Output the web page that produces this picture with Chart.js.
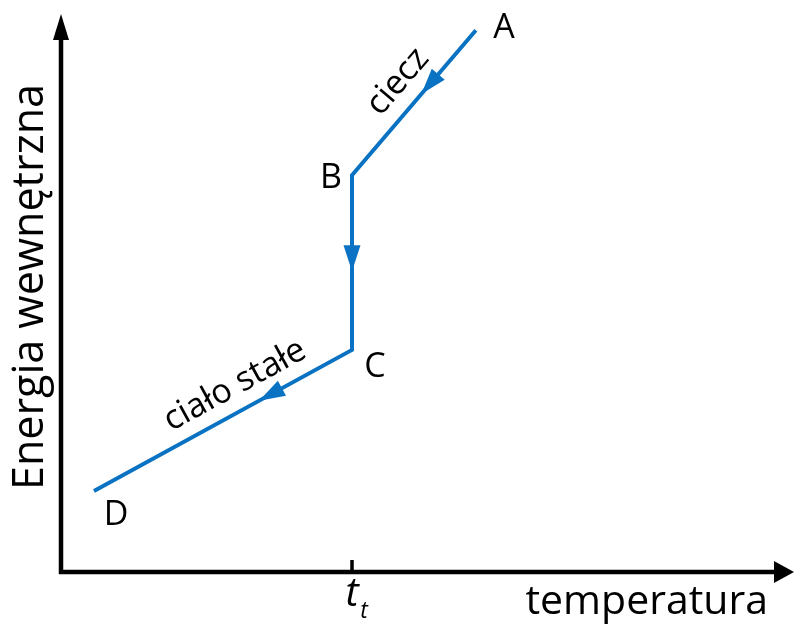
<!DOCTYPE html>
<html><head><meta charset="utf-8">
<script src="https://cdn.jsdelivr.net/npm/chart.js@4"></script>
<style>html,body{margin:0;padding:0;background:#fff;}#wrap{width:794px;height:624px;}</style>
</head><body><div id="wrap"><canvas id="c"></canvas></div>
<script>
// Data
const pointNames = ['A', 'B', 'C', 'D'];
const temperature = [56.6, 39.7, 39.7, 4.5];
const energy = [97.1, 71.1, 39.8, 14.5];
const meltingTemp = 39.7;
const xTickLabels = ['t', 't'];
const segmentLabels = ['ciecz', '', 'ciało stałe'];
const axisTitles = ['temperatura', 'Energia wewnętrzna'];

const FONT = '"Open Sans", "Noto Sans", sans-serif';
const BLUE = '#0A72C2';

const decor = {
  id: 'decor',
  afterDatasetsDraw(chart) {
    const ctx = chart.ctx;
    const xs = chart.scales.x, ys = chart.scales.y;
    const x0 = xs.getPixelForValue(0), y0 = ys.getPixelForValue(0);
    const pts = chart.getDatasetMeta(0).data.map(p => ({x: p.x, y: p.y}));
    ctx.save();
    // axes
    ctx.strokeStyle = '#000'; ctx.fillStyle = '#000'; ctx.lineWidth = 4.5;
    ctx.beginPath(); ctx.moveTo(x0, y0 + 2); ctx.lineTo(x0, 38); ctx.stroke();
    ctx.beginPath(); ctx.moveTo(x0 - 2, y0); ctx.lineTo(776, y0); ctx.stroke();
    ctx.beginPath(); ctx.moveTo(x0, 14); ctx.lineTo(x0 + 8, 40); ctx.lineTo(x0 - 8, 40); ctx.closePath(); ctx.fill();
    ctx.beginPath(); ctx.moveTo(794, y0); ctx.lineTo(774, y0 - 11); ctx.lineTo(774, y0 + 11); ctx.closePath(); ctx.fill();
    // tick
    const tx = xs.getPixelForValue(meltingTemp);
    ctx.lineWidth = 3.5;
    ctx.beginPath(); ctx.moveTo(tx, y0 - 12); ctx.lineTo(tx, y0); ctx.stroke();
    ctx.textAlign = 'center'; ctx.textBaseline = 'alphabetic';
    ctx.font = 'italic 40px ' + FONT;
    ctx.fillText(xTickLabels[0], tx, y0 + 34);
    ctx.font = 'italic 23px ' + FONT;
    ctx.fillText(xTickLabels[1], tx + 12, y0 + 46);
    // axis titles
    ctx.font = '41px ' + FONT;
    ctx.textAlign = 'right';
    ctx.fillText(axisTitles[0], 768, 614);
    ctx.save();
    ctx.font = '43px ' + FONT;
    ctx.translate(43, 287); ctx.rotate(-Math.PI / 2);
    ctx.textAlign = 'center';
    ctx.fillText(axisTitles[1], 0, 0);
    ctx.restore();
    // segment arrows
    const fr = [0.44, 0.55, 0.36];
    ctx.fillStyle = BLUE;
    for (let i = 0; i < 3; i++) {
      const a = pts[i], b = pts[i + 1];
      const dx = b.x - a.x, dy = b.y - a.y, L = Math.hypot(dx, dy);
      const ux = dx / L, uy = dy / L;
      const tipx = a.x + dx * fr[i], tipy = a.y + dy * fr[i];
      const bx = tipx - ux * 26, by = tipy - uy * 26;
      ctx.beginPath();
      ctx.moveTo(tipx, tipy);
      ctx.lineTo(bx - uy * 8.5, by + ux * 8.5);
      ctx.lineTo(bx + uy * 8.5, by - ux * 8.5);
      ctx.closePath(); ctx.fill();
    }
    // point labels
    ctx.fillStyle = '#000';
    ctx.font = '34px ' + FONT;
    ctx.textAlign = 'center'; ctx.textBaseline = 'alphabetic';
    const off = [[28, 8], [-21, 13], [23, 27], [22, 34]];
    pts.forEach((p, i) => ctx.fillText(pointNames[i], p.x + off[i][0], p.y + off[i][1]));
    // segment labels
    ctx.textBaseline = 'middle';
    const soff = [[-16, -21], null, [12, -35]];
    ctx.font = '34px ' + FONT;
    for (let i = 0; i < 3; i++) {
      if (!segmentLabels[i]) continue;
      const a = pts[i], b = pts[i + 1];
      const mx = (a.x + b.x) / 2 + soff[i][0], my = (a.y + b.y) / 2 + soff[i][1];
      let ang = Math.atan2(b.y - a.y, b.x - a.x);
      if (Math.cos(ang) < 0) ang += Math.PI;
      ctx.save(); ctx.translate(mx, my); ctx.rotate(ang);
      ctx.fillText(segmentLabels[i], 0, 0);
      ctx.restore();
    }
    ctx.restore();
  }
};

new Chart(document.getElementById('c'), {
  type: 'scatter',
  data: {
    datasets: [{
      data: temperature.map((t, i) => ({x: t, y: energy[i]})),
      showLine: true,
      borderColor: BLUE,
      borderWidth: 4,
      pointRadius: 0,
      borderJoinStyle: 'miter',
      borderCapStyle: 'butt',
      tension: 0
    }]
  },
  options: {
    responsive: true,
    maintainAspectRatio: false,
    animation: false,
    layout: {padding: {left: 61, top: 14, right: 0, bottom: 52}},
    plugins: {legend: {display: false}, tooltip: {enabled: false}},
    scales: {
      x: {type: 'linear', min: 0, max: 100, display: false},
      y: {type: 'linear', min: 0, max: 100, display: false}
    }
  },
  plugins: [decor]
});
</script>
</body></html>
